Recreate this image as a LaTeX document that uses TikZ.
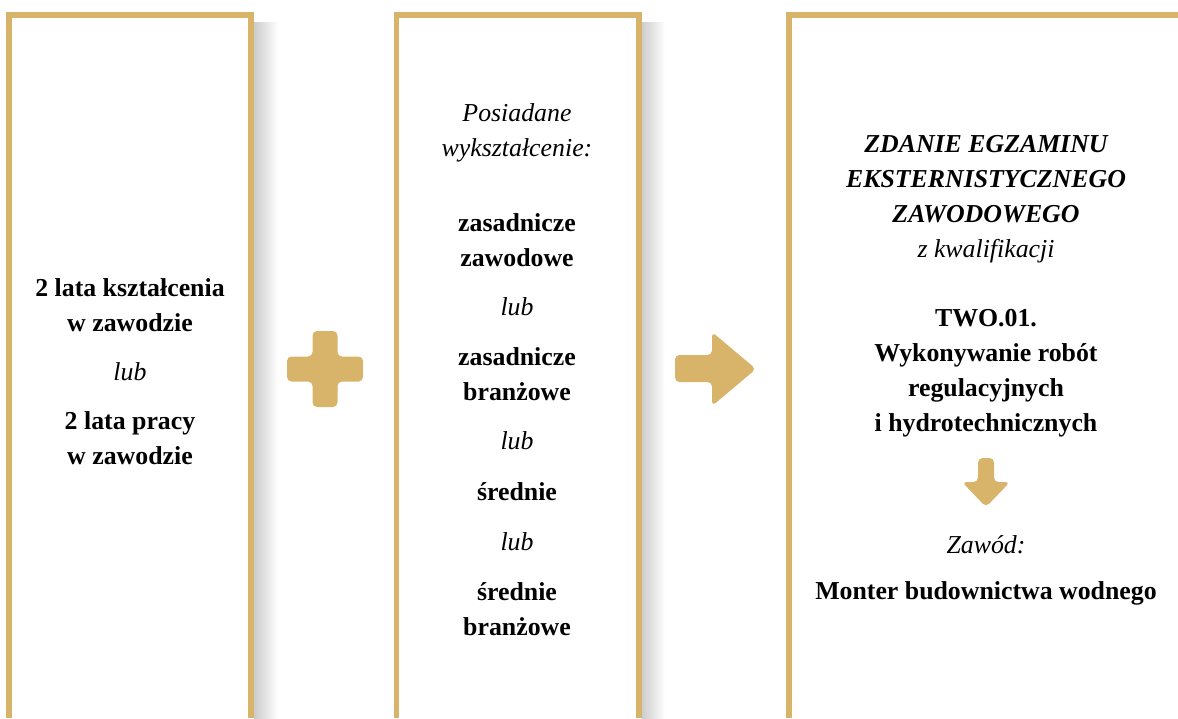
\documentclass[tikz,border=0pt]{standalone}
\usepackage{fontspec}
\setmainfont{Liberation Serif}
\definecolor{zloty}{RGB}{216,180,106}
\begin{document}
\begin{tikzpicture}[x=0.02cm,y=-0.02cm,
    ramka/.style={draw=zloty, line width=0.11cm, line cap=butt},
    cien/.style={left color=black!20, right color=white},
    znak/.style={fill=zloty, draw=none, rounded corners=0.09cm},
    tekst/.style={inner sep=0pt, align=center, font=\fontsize{14.7}{19.9}\selectfont},
    pogr/.style={tekst, font=\fontsize{14.7}{19.9}\selectfont\bfseries},
    kurs/.style={tekst, font=\fontsize{14.7}{19.9}\selectfont\itshape}]
    \useasboundingbox (0,0) rectangle (1178,718);

    %Cienie
        \shade[cien] (254,22) rectangle (278,718);
        \shade[cien] (641.5,22) rectangle (665,718);

    %Ramki
        \draw[ramka] (9,718)--(9,15)--(251,15)--(251,718);
        \draw[ramka] (396.5,718)--(396.5,15)--(639,15)--(639,718);
        \draw[ramka] (789,718)--(789,15)--(1180,15);

    %Znaki
        \fill[znak] (312.5,331)--(337.5,331)--(337.5,356.5)--(363,356.5)--(363,381.5)--(337.5,381.5)
            --(337.5,407)--(312.5,407)--(312.5,381.5)--(287,381.5)--(287,356.5)--(312.5,356.5)--cycle;
        \fill[znak] (675,355)--(712,355)--(712,332)--(756,369)--(712,406)--(712,382)--(675,382)--cycle;
        \fill[znak] (978,458)--(994,458)--(994,482)--(1010,482)--(986,507)--(962,482)--(978,482)--cycle;

    %Kolumna 1
        \node[pogr] (ksztalcenie) at (130,305) {2 lata kształcenia\\w zawodzie};
        \node[kurs] (lub1) at (130,372) {lub};
        \node[pogr] (praca) at (130,438) {2 lata pracy\\w zawodzie};

    %Kolumna 2
        \node[kurs] (posiadane) at (517,133) {Posiadane\\wykształcenie:};
        \node[pogr] (zaszaw) at (517,240) {zasadnicze\\zawodowe};
        \node[kurs] (lub2) at (517,307) {lub};
        \node[pogr] (zasbran) at (517,374) {zasadnicze\\branżowe};
        \node[kurs] (lub3) at (517,441) {lub};
        \node[pogr] (srednie) at (517,492) {średnie};
        \node[kurs] (lub4) at (517,542) {lub};
        \node[pogr] (sredbran) at (517,609) {średnie\\branżowe};

    %Kolumna 3
        \node[pogr, font=\fontsize{14.7}{19.9}\selectfont\bfseries\itshape] (egzamin) at (986,199)
            {ZDANIE EGZAMINU\\EKSTERNISTYCZNEGO\\ZAWODOWEGO\\\mdseries z kwalifikacji};
        \node[pogr] (kwalifikacja) at (986,373) {TWO.01.\\Wykonywanie robót\\regulacyjnych\\i hydrotechnicznych};
        \node[kurs] (zawod) at (986,545) {Zawód:};
        \node[pogr] (monter) at (986,593) {Monter budownictwa wodnego};
\end{tikzpicture}
\end{document}
